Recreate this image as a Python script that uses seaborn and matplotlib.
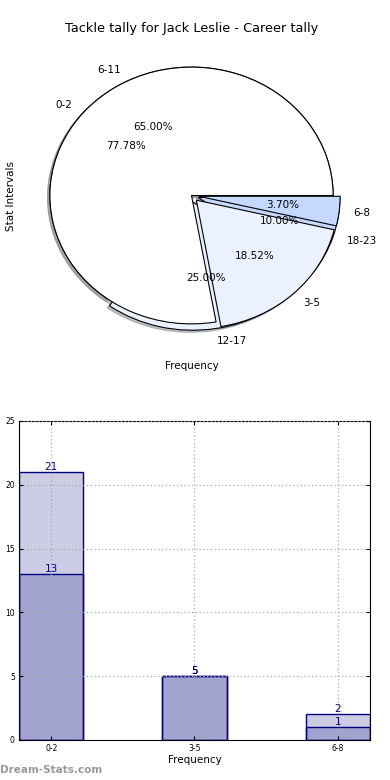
import matplotlib
matplotlib.use("Agg")
import matplotlib.pyplot as plt
import seaborn as sns

title = "Tackle tally for Jack Leslie - Career tally"
pie1_labels = ["0-2", "3-5", "6-8"]
pie1_values = [21, 5, 1]
pie2_labels = ["6-11", "12-17", "18-23"]
pie2_values = [13, 5, 2]
pie_colors = ["#FFFFFF", "#EBF1FF", "#C5D9FF"]

bar_cats = ["0-2", "3-5", "6-8"]
series_a = [21, 5, 1]
series_b = [13, 5, 2]

plt.rcParams['font.family'] = ['DejaVu Sans']

fig = plt.figure(figsize=(3.9, 7.8), dpi=100)

# ---- pie panel ----
ax1 = fig.add_axes([0.0372, 0.5436, 0.9077, 0.4115])
explode = [0, 0.05, 0.05]
shadow = dict(ox=-0.012, oy=-0.012, shade=0.45)
_, t2, a2 = ax1.pie(pie2_values, labels=pie2_labels, colors=pie_colors, explode=explode,
                    autopct='%1.2f%%', shadow=shadow, startangle=0,
                    wedgeprops=dict(edgecolor='black', linewidth=0.8),
                    textprops=dict(fontsize=7.5))
_, t1, a1 = ax1.pie(pie1_values, labels=pie1_labels, colors=pie_colors, explode=explode,
                    autopct='%1.2f%%', shadow=shadow, startangle=0,
                    wedgeprops=dict(edgecolor='black', linewidth=0.8),
                    textprops=dict(fontsize=7.5))
ax1.set_aspect('auto')
ax1.set_xlim(-1.25, 1.25)
ax1.set_ylim(-1.25, 1.25)
ax1.set_title(title, fontsize=9.3, pad=0.5)
ax1.set_xlabel("Frequency", fontsize=7.5, labelpad=3.5)
ax1.set_ylabel("Stat Intervals", fontsize=7.5, labelpad=-1)

# ---- bar panel ----
ax2 = fig.add_axes([0.0487, 0.0513, 0.9, 0.409])
sns.barplot(x=bar_cats, y=series_a, ax=ax2, width=0.45, saturation=1, color="navy")
sns.barplot(x=bar_cats, y=series_b, ax=ax2, width=0.45, saturation=1, color="navy")
for p in ax2.patches:
    p.set_facecolor((0, 0, 0.5, 0.2))
    p.set_edgecolor("navy")
    p.set_linewidth(1)
for i, v in enumerate(series_a):
    ax2.text(i, v, str(v), ha='center', va='bottom', color='navy', fontsize=7.5)
for i, v in enumerate(series_b):
    ax2.text(i, v, str(v), ha='center', va='bottom', color='navy', fontsize=7.5)
ax2.set_xlim(-0.225, 2.225)
ax2.set_ylim(0, 25)
ax2.set_yticks([0, 5, 10, 15, 20, 25])
ax2.grid(True, linestyle=(0, (1, 2)), color='#a8a8a8', linewidth=0.9)
ax2.set_axisbelow(False)
ax2.tick_params(direction='in', top=True, right=True, length=3, labelsize=5.5, pad=3)
ax2.set_xlabel("Frequency", fontsize=7.5, labelpad=1)
ax2.set_ylabel("")

fig.text(0.0, 0.0128, "Dream-Stats.com", color="#999999", fontsize=7.5, weight='bold',
         ha='left', va='center')

fig.savefig("out.png", dpi=100)
